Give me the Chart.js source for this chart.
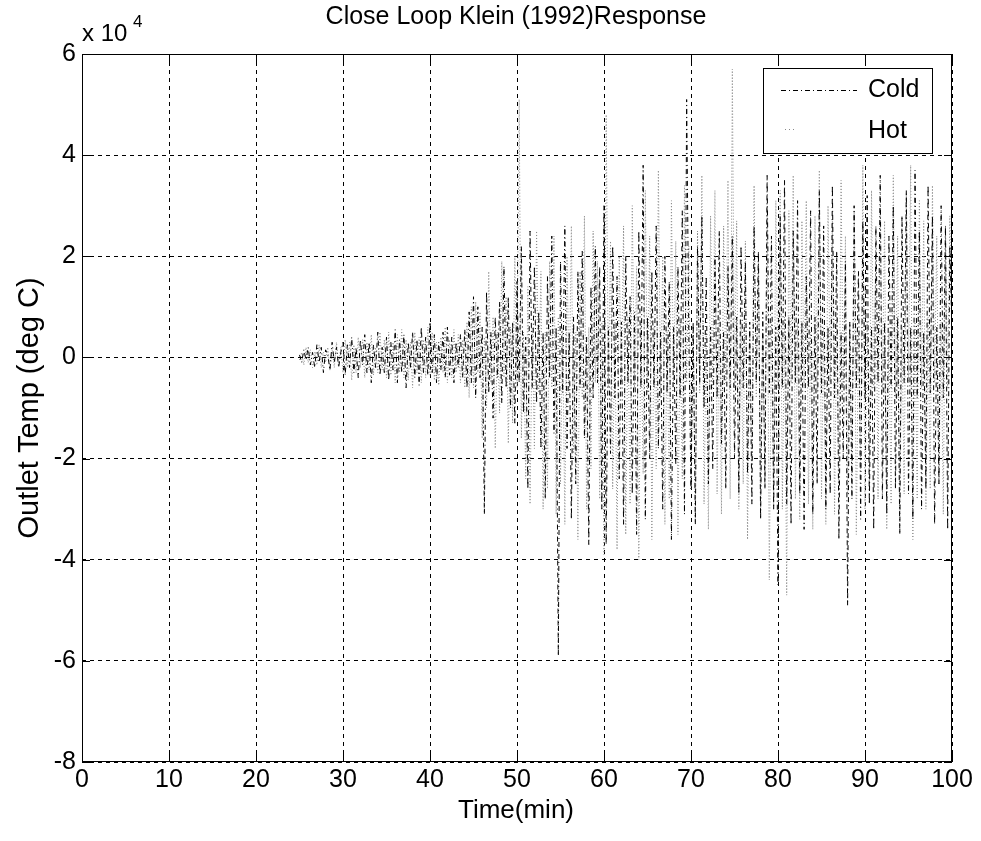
<!DOCTYPE html>
<html>
<head>
<meta charset="utf-8">
<script src="https://cdn.jsdelivr.net/npm/chart.js@4/dist/chart.umd.min.js"></script>
<style>
html,body{margin:0;padding:0;background:#fff;}
#wrap{width:981px;height:841px;position:relative;}
</style>
</head>
<body>
<div id="wrap"><canvas id="c" width="981" height="841"></canvas></div>
<script>
// Time axis: samples every 0.25 min starting at 25 min
const startTime = 25;
const timeStep = 0.25;
const xTicks = [0,10,20,30,40,50,60,70,80,90,100];
const yTicks = [-8,-6,-4,-2,0,2,4,6];
const seriesNames = ["Cold","Hot"];
// Values in units of 10^4 deg C
const coldValues = [
0.05,-0.1,0.15,-0.05,0.2,-0.15,0.1,-0.2,0.25,-0.1,0.2,-0.3,0.15,0.05,-0.25,0.3,-0.1,0.2,-0.2,0.1,
0.3,-0.35,0.25,-0.2,0.4,-0.3,0.2,-0.4,0.35,-0.15,0.45,-0.3,0.3,-0.5,0.25,-0.2,0.5,-0.35,0.2,-0.3,
0.4,-0.45,0.3,-0.25,0.55,-0.5,0.35,-0.3,0.45,-0.6,0.3,-0.2,0.5,-0.4,0.35,-0.55,0.6,-0.3,0.4,-0.35,
0.7,-0.3,0.45,-0.5,0.3,-0.25,0.5,-0.4,0.6,-0.35,0.4,-0.5,0.3,-0.2,0.45,-0.4,0.55,-0.6,0.9,-0.5,
1.2,-0.8,1.0,-0.4,0.6,-3.1,1.3,-0.7,0.5,-1.2,0.8,-0.4,1.1,-0.9,1.8,-0.6,1.2,-1.0,0.7,-1.3,
1.5,-0.5,2.2,-1.1,0.4,-2.6,2.5,-0.6,1.8,-0.9,0.9,-1.8,0.5,-2.8,1.6,-0.4,2.4,-1.5,0.6,-5.9,
1.9,-0.7,2.6,-1.8,0.5,-3.2,0.8,-2.5,1.7,-0.6,2.1,-1.6,0.4,-3.7,1.4,-0.8,2.2,-0.5,1.8,-3.0,
3.0,-3.7,0.6,-1.9,2.2,-0.8,1.6,-2.4,0.7,-3.3,2.0,-0.5,1.2,-2.7,0.9,-3.5,2.5,-0.6,3.8,-3.2,
0.8,-2.0,1.7,-0.6,2.6,-1.8,0.5,-3.0,2.0,-0.7,1.5,-3.6,0.6,-2.1,1.8,-0.8,2.9,-3.1,5.1,0.4,
-2.6,0.7,-3.3,2.2,-0.5,2.8,-1.0,1.6,-2.5,0.6,-2.2,2.0,-0.8,2.5,-1.7,0.5,-2.6,1.8,-0.6,2.4,
-2.0,0.8,-2.7,2.2,-0.6,1.9,-2.3,0.7,-2.9,2.6,-0.5,2.1,-3.2,0.9,-2.6,3.6,-0.7,2.4,-3.0,0.6,
-4.5,2.8,-0.6,3.5,-2.9,0.8,-3.3,2.5,-0.5,3.1,-2.7,0.7,-3.4,1.6,-0.6,2.9,-3.1,0.8,-2.5,3.3,
-0.7,2.6,-3.0,0.6,-2.7,3.4,-0.8,2.1,-3.6,0.5,-2.0,1.9,-4.9,0.7,-2.8,3.0,-0.6,1.7,-3.2,2.7,
-0.8,3.2,-2.9,0.6,-3.4,2.6,-0.5,3.6,-2.8,0.7,-3.1,2.4,-0.6,3.0,-2.6,0.8,-3.5,2.8,-0.5,3.3,
-2.7,0.6,-3.2,3.7,-0.8,2.5,-3.0,0.5,-2.6,3.4,-0.7,2.8,-3.3,0.6,-2.5,3.0,-0.8,2.6,-3.4,2.2,
0.5
];
const hotValues = [
-0.05,0.1,-0.15,0.2,-0.1,0.15,-0.2,0.1,-0.15,0.25,-0.2,0.1,-0.1,0.2,-0.25,0.15,-0.2,0.3,-0.15,0.2,
-0.3,0.35,-0.2,0.3,-0.45,0.25,-0.3,0.4,-0.2,0.35,-0.4,0.3,-0.25,0.45,-0.35,0.2,-0.3,0.5,-0.25,0.35,
-0.4,0.5,-0.35,0.3,-0.5,0.45,-0.3,0.55,-0.4,0.35,-0.45,0.3,-0.6,0.5,-0.3,0.4,-0.5,0.35,-0.4,0.6,
-0.35,0.5,-0.45,0.3,-0.55,0.4,-0.3,0.6,-0.5,0.35,-0.4,0.55,-0.3,0.45,-0.5,0.35,-0.6,0.7,-0.8,1.0,
-0.6,1.1,-0.3,0.9,-1.6,0.4,-1.0,1.7,-0.5,0.8,-1.8,0.5,-1.1,1.9,-0.4,1.2,-1.7,0.6,-1.3,2.0,
-0.6,5.1,-1.6,0.5,-2.4,1.4,-2.9,0.6,-1.8,2.5,-0.7,1.7,-3.0,0.5,-2.6,1.9,-0.6,2.4,-3.1,0.8,
-2.5,0.6,-3.3,2.0,-0.7,2.6,-1.9,0.5,-3.6,1.7,-0.8,2.8,-3.0,0.6,-2.2,2.5,-0.5,1.9,-2.8,0.7,
-3.9,4.8,-0.6,2.3,-2.6,0.7,-3.8,2.0,-0.5,2.6,-3.5,0.8,-2.9,3.0,-0.6,1.8,-4.0,0.7,-2.3,3.3,
-0.7,2.4,-3.6,0.6,-2.2,3.7,-0.8,2.0,-3.3,0.5,-2.8,3.1,-0.6,2.3,-3.5,0.7,-2.4,3.4,-0.5,2.2,
-2.6,0.6,-3.2,2.5,-0.7,3.6,-2.9,0.5,-3.4,2.8,-0.6,3.3,-2.7,0.8,-3.1,2.6,-0.5,3.5,-2.8,5.7,
-0.6,2.7,-3.0,0.7,-2.5,2.3,-3.6,0.6,-2.1,3.4,-0.8,2.0,-3.1,0.5,-2.4,3.0,-4.4,0.7,-2.9,3.1,
-0.6,3.3,-3.0,0.8,-4.7,2.9,-0.5,3.6,-2.8,0.7,-3.2,2.7,-0.6,3.1,-2.9,0.5,-3.4,2.8,-0.7,3.7,
-2.8,0.6,-3.3,3.0,-0.5,2.7,-3.1,0.8,-2.6,3.5,-0.6,2.4,-2.7,0.7,-2.3,2.9,-3.5,0.5,-2.2,3.8,
-3.0,0.7,-2.6,3.3,-0.6,2.1,-2.8,3.0,-0.7,2.7,-3.4,0.5,-2.9,3.6,-0.8,2.4,-3.1,0.6,-2.7,3.2,
-0.5,3.8,-3.6,0.7,-2.8,3.1,-0.6,2.7,-3.0,0.8,-2.6,3.4,-0.5,2.4,-2.5,0.7,-3.1,2.6,-0.6,2.8,
0.3
];

function toPoints(vals){ return vals.map((v,i)=>({x:startTime+i*timeStep, y:v})); }

const FONT = "'Liberation Sans', Arial, sans-serif";
const PLOT = {left:82, top:54, right:952, bottom:762};

const decor = {
  id:'decor',
  afterDatasetsDraw(chart){
    const ctx = chart.ctx;
    const a = chart.chartArea;
    ctx.save();
    ctx.strokeStyle = '#000';
    ctx.lineWidth = 1;
    ctx.setLineDash([]);
    ctx.strokeRect(a.left+0.5, a.top+0.5, a.right-a.left-1, a.bottom-a.top-1);
    const xs = chart.scales.x, ys = chart.scales.y;
    ctx.beginPath();
    xTicks.forEach(t=>{
      const px = Math.round(xs.getPixelForValue(t))+0.5;
      ctx.moveTo(px,a.bottom); ctx.lineTo(px,a.bottom-8);
      ctx.moveTo(px,a.top); ctx.lineTo(px,a.top+8);
    });
    yTicks.forEach(t=>{
      const py = Math.round(ys.getPixelForValue(t))+0.5;
      ctx.moveTo(a.left,py); ctx.lineTo(a.left+8,py);
      ctx.moveTo(a.right,py); ctx.lineTo(a.right-8,py);
    });
    ctx.stroke();
    // legend box
    const L = {x:763, y:68, w:169, h:85};
    ctx.fillStyle = '#fff';
    ctx.fillRect(L.x, L.y, L.w, L.h);
    ctx.strokeStyle = '#000';
    ctx.strokeRect(L.x+0.5, L.y+0.5, L.w, L.h);
    ctx.beginPath();
    ctx.strokeStyle = '#000';
    ctx.setLineDash([5,3,1,3]);
    ctx.moveTo(781, 90.5); ctx.lineTo(857, 90.5);
    ctx.stroke();
    ctx.beginPath();
    ctx.strokeStyle = '#888';
    ctx.setLineDash([1,3]);
    ctx.moveTo(785, 129.5); ctx.lineTo(797, 129.5);
    ctx.stroke();
    ctx.setLineDash([]);
    ctx.fillStyle = '#000';
    ctx.font = '25px ' + FONT;
    ctx.textBaseline = 'middle';
    ctx.textAlign = 'left';
    ctx.fillText(seriesNames[0], 868, 90);
    ctx.fillText(seriesNames[1], 868, 131);
    ctx.restore();
  },
  afterDraw(chart){
    const ctx = chart.ctx;
    ctx.save();
    ctx.fillStyle = '#000';
    ctx.font = '25px ' + FONT;
    ctx.textAlign = 'center';
    ctx.textBaseline = 'middle';
    ctx.fillText('Close Loop Klein (1992)Response', 516, 17);
    ctx.textAlign = 'left';
    ctx.textBaseline = 'alphabetic';
    ctx.font = '24px ' + FONT;
    ctx.fillText('x 10', 82, 41);
    ctx.font = '17px ' + FONT;
    ctx.fillText('4', 133, 27);
    ctx.font = '26px ' + FONT;
    ctx.textAlign = 'center';
    ctx.textBaseline = 'middle';
    ctx.fillText('Time(min)', 516, 811);
    ctx.font = '29px ' + FONT;
    ctx.translate(30, 408);
    ctx.rotate(-Math.PI/2);
    ctx.fillText('Outlet Temp (deg C)', 0, 0);
    ctx.restore();
  }
};

new Chart(document.getElementById('c'), {
  type:'line',
  data:{
    datasets:[
      {label:seriesNames[0], data:toPoints(coldValues), borderColor:'#000', borderWidth:1,
       borderDash:[5,3,1,3], pointRadius:0, tension:0, fill:false},
      {label:seriesNames[1], data:toPoints(hotValues), borderColor:'#8a8a8a', borderWidth:1,
       borderDash:[1,2], pointRadius:0, tension:0, fill:false}
    ]
  },
  options:{
    responsive:false,
    animation:false,
    events:[],
    layout:{padding:{left:0, top:PLOT.top, right:981-PLOT.right, bottom:0}},
    plugins:{legend:{display:false}, title:{display:false}, tooltip:{enabled:false}},
    scales:{
      x:{type:'linear', min:0, max:100,
         afterFit(s){ s.height = 841-PLOT.bottom; },
         afterBuildTicks(s){ s.ticks = xTicks.map(v=>({value:v})); },
         ticks:{color:'#000', font:{family:FONT, size:25}, padding:3, maxRotation:0,
                callback:(v)=>String(v)},
         grid:{color:'#000', lineWidth:1, drawTicks:false},
         border:{display:false, dash:[4,4]}},
      y:{type:'linear', min:-8, max:6,
         afterFit(s){ s.width = PLOT.left; },
         afterBuildTicks(s){ s.ticks = yTicks.map(v=>({value:v})); },
         ticks:{color:'#000', font:{family:FONT, size:25}, padding:6,
                callback:(v)=>String(v)},
         grid:{color:'#000', lineWidth:1, drawTicks:false},
         border:{display:false, dash:[4,4]}}
    }
  },
  plugins:[decor]
});
</script>
</body>
</html>
